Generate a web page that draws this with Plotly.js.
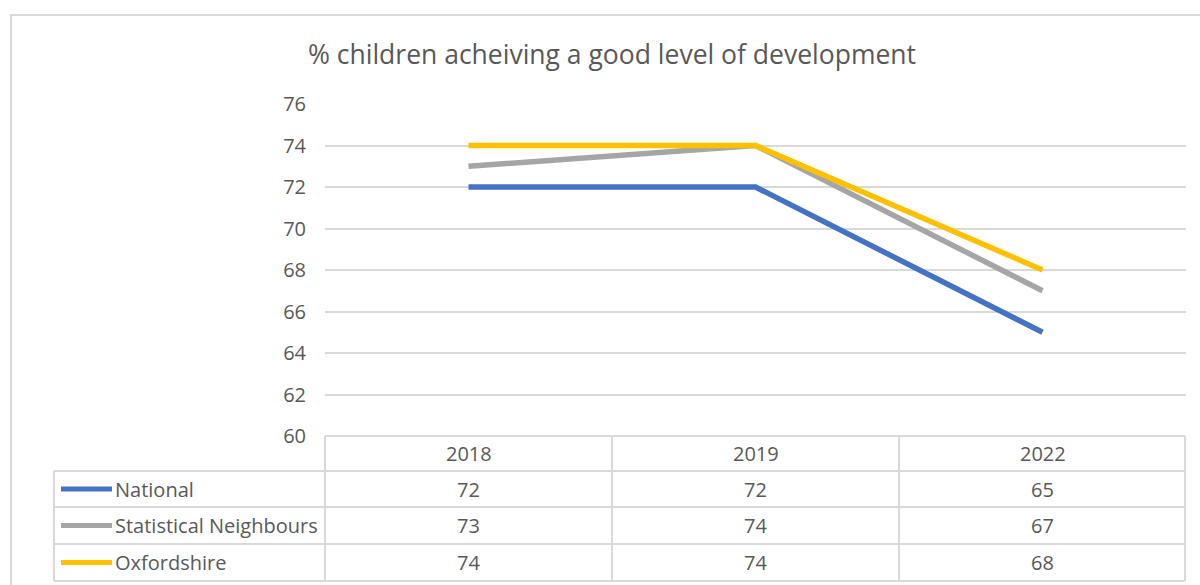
<!DOCTYPE html>
<html>
<head>
<meta charset="utf-8">
<script src="https://cdn.plot.ly/plotly-3.0.1.min.js"></script>
<style>html,body{margin:0;padding:0;background:#fff;}#chart{width:1200px;height:585px;}</style>
</head>
<body>
<div id="chart"></div>
<script>
const categories = ["2018", "2019", "2022"];
const seriesNames = ["National", "Statistical Neighbours", "Oxfordshire"];
const national = [72, 72, 65];
const statNeighbours = [73, 74, 67];
const oxfordshire = [74, 74, 68];
const seriesValues = [national, statNeighbours, oxfordshire];
const seriesColors = ["#4472C4", "#A5A5A5", "#FFC000"];
const yTicks = [60, 62, 64, 66, 68, 70, 72, 74, 76];

const W = 1200, H = 585;
const L = 325, R = 1186, T = 104, B = 436;
const pw = R - L, ph = B - T;
const px = v => (v - L) / pw;
const py = v => (B - v) / ph;

const FONT = "Open Sans, sans-serif";
const TXT = "#595959";
const GRID = "#D9D9D9";

const traces = seriesValues.map((vals, i) => ({
  type: "scatter", mode: "lines",
  x: [0, 1, 2], y: vals, name: seriesNames[i],
  line: {color: seriesColors[i], width: 5.5},
  hoverinfo: "skip", showlegend: false
}));

const shapes = [];
const annotations = [];
// outer frame
shapes.push({type: "rect", xref: "paper", yref: "paper", x0: px(11), x1: px(1210), y0: py(600), y1: py(15), line: {color: GRID, width: 2}, layer: "below"});
// table lines
const rowY = [436, 471, 507, 544, 581];
const colX = [325, 612, 899, 1185];
shapes.push({type: "line", xref: "paper", yref: "paper", x0: px(325), x1: px(1185), y0: py(436), y1: py(436), line: {color: GRID, width: 2}});
for (let r = 1; r < rowY.length; r++) {
  shapes.push({type: "line", xref: "paper", yref: "paper", x0: px(54), x1: px(1185), y0: py(rowY[r]), y1: py(rowY[r]), line: {color: GRID, width: 2}});
}
colX.forEach(cx => {
  shapes.push({type: "line", xref: "paper", yref: "paper", x0: px(cx), x1: px(cx), y0: py(436), y1: py(581), line: {color: GRID, width: 2}});
});
shapes.push({type: "line", xref: "paper", yref: "paper", x0: px(54), x1: px(54), y0: py(471), y1: py(581), line: {color: GRID, width: 2}});

const TS = 20;
categories.forEach((c, j) => {
  annotations.push({x: j, xref: "x", y: py(453), yref: "paper", text: c, showarrow: false, xanchor: "center", yanchor: "middle", font: {family: FONT, size: TS, color: TXT}});
});
seriesNames.forEach((nm, i) => {
  const cy = (rowY[i + 1] + rowY[i + 2]) / 2;
  shapes.push({type: "line", xref: "paper", yref: "paper", x0: px(61), x1: px(112), y0: py(cy), y1: py(cy), line: {color: seriesColors[i], width: 5}});
  annotations.push({x: px(113), xref: "paper", y: py(cy), yref: "paper", text: nm, showarrow: false, xanchor: "left", yanchor: "middle", font: {family: FONT, size: TS, color: TXT}});
  seriesValues[i].forEach((v, j) => {
    annotations.push({x: j, xref: "x", y: py(cy), yref: "paper", text: String(v), showarrow: false, xanchor: "center", yanchor: "middle", font: {family: FONT, size: TS, color: TXT}});
  });
});

const layout = {
  width: W, height: H,
  margin: {l: L, r: W - R, t: T, b: H - B, pad: 0},
  paper_bgcolor: "#fff", plot_bgcolor: "#fff",
  title: {text: "% children acheiving a good level of development", font: {family: FONT, size: 26.5, color: TXT}, x: px(612), xref: "paper", xanchor: "center", y: 1 - 55 / H, yref: "container", yanchor: "middle"},
  xaxis: {range: [-0.5, 2.5], showticklabels: false, showgrid: false, zeroline: false, showline: false, fixedrange: true},
  yaxis: {range: [60, 76], tickvals: yTicks, ticktext: yTicks.map(String), showgrid: true, gridcolor: GRID, gridwidth: 2, zeroline: false, showline: false, ticks: "", ticklabelstandoff: 18, tickfont: {family: FONT, size: 20, color: TXT}, fixedrange: true},
  shapes: shapes, annotations: annotations, showlegend: false
};

Plotly.newPlot("chart", traces, layout, {displayModeBar: false, staticPlot: true});
</script>
</body>
</html>
